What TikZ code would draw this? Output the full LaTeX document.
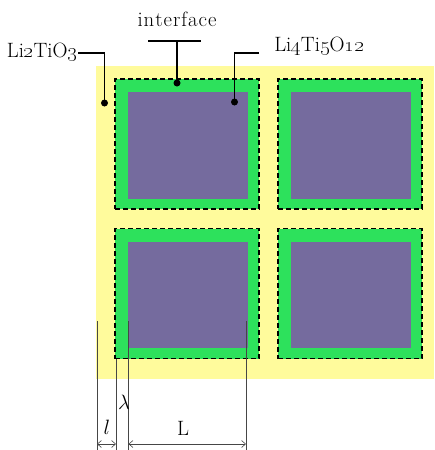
\documentclass[tikz,border=0pt]{standalone}
\usetikzlibrary{arrows.meta}
\definecolor{bgyellow}{RGB}{255,251,156}
\definecolor{ringgreen}{RGB}{45,225,92}
\definecolor{corepurple}{RGB}{117,107,158}
\definecolor{dimgray}{RGB}{70,70,70}
\newcommand{\spaced}{\kern1.0pt}
\begin{document}
\begin{tikzpicture}[x=1pt,y=-1pt]
\tikzset{
 ring/.style={fill=ringgreen, draw=black, dash pattern=on 5pt off 3pt, line width=1.3pt,
   inner sep=0pt, outer sep=0pt, anchor=north west, minimum width=144pt, minimum height=130pt},
 core/.style={fill=corepurple, draw=none, inner sep=0pt, outer sep=0pt, anchor=north west,
   minimum width=119.5pt, minimum height=106.5pt},
 lbl/.style={font=\huge, inner sep=0pt},
 leader/.style={line width=1.4pt, black},
 pin/.style={circle, fill=black, draw=none, inner sep=0pt, minimum size=7pt},
 dimline/.style={line width=0.6pt, dimgray},
 dimarrow/.style={dimline, {Straight Barb[length=4pt,width=7pt]}-{Straight Barb[length=4pt,width=7pt]}},
}
\useasboundingbox (0,0) rectangle (434,450);
% matrix background
\fill[bgyellow] (96,66) rectangle (434,379);
% cells
\node[ring] (g11) at (115,79) {};
\node[core] (c11) at (128,92) {};
\node[ring] (g12) at (278,79) {};
\node[core] (c12) at (291,92) {};
\node[ring] (g21) at (115,228.5) {};
\node[core] (c21) at (128,241.5) {};
\node[ring] (g22) at (278,228.5) {};
\node[core] (c22) at (291,241.5) {};
% labels
\node[lbl, anchor=base] (tio) at (42,57) {Li\oldstylenums{2}TiO\oldstylenums{3}};
\node[lbl, anchor=base] (intf) at (177,26) {i\spaced n\spaced t\spaced e\spaced r\spaced f\spaced a\spaced c\spaced e};
\node[lbl, anchor=base] (lto) at (319,51) {Li\oldstylenums{4}Ti\oldstylenums{5}O\oldstylenums{12}};
% pins
\node[pin] (p1) at (104.5,103) {};
\node[pin] (p2) at (177,83) {};
\node[pin] (p3) at (234.5,102) {};
% leaders
\coordinate (k1) at (78,53);
\draw[leader] (k1) -| (p1.center);
\coordinate (t1) at (148,41);
\coordinate (t2) at (201,41);
\draw[leader] (t1) -- (t2);
\draw[leader] (p2.center) -- (p2.center |- t1);
\coordinate (k3) at (259,53);
\draw[leader] (k3) -| (p3.center);
% dimension lines
\coordinate (bot) at (0,450);
\coordinate (arr) at (0,444);
\coordinate (a0) at (97,321);
\coordinate (a1) at (116,359);
\coordinate (a2) at (128.5,321);
\coordinate (a3) at (246,321);
\draw[dimline] (a0) -- (a0 |- bot);
\draw[dimline] (a1) -- (a1 |- bot);
\draw[dimline] (a2) -- (a2 |- bot);
\draw[dimline] (a3) -- (a3 |- bot);
\draw[dimarrow] (a0 |- arr) -- (a1 |- arr);
\draw[dimarrow] (a2 |- arr) -- (a3 |- arr);
\node[lbl] (lsym) at (107,427) {$l$};
\node[lbl] (lam) at (124,402) {$\lambda$};
\node[lbl] (Lsym) at (183,428) {L};
\end{tikzpicture}
\end{document}
